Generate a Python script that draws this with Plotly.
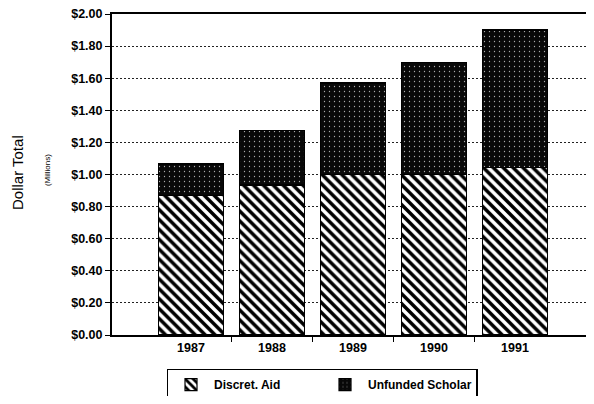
import plotly.graph_objects as go

years = ["1987", "1988", "1989", "1990", "1991"]
discret_aid = [0.87, 0.935, 1.00, 1.00, 1.045]
unfunded_scholar = [0.195, 0.34, 0.57, 0.70, 0.855]
tick_vals = [0.0, 0.2, 0.4, 0.6, 0.8, 1.0, 1.2, 1.4, 1.6, 1.8, 2.0]
tick_text = ["$0.00", "$0.20", "$0.40", "$0.60", "$0.80", "$1.00",
             "$1.20", "$1.40", "$1.60", "$1.80", "$2.00"]

FONT = "Liberation Sans, Arial, Helvetica, sans-serif"
xpos = list(range(len(years)))
boundaries = [i + 0.5 for i in xpos[:-1]]

fig = go.Figure()
fig.add_trace(go.Bar(
    x=xpos, y=discret_aid, name="Discret. Aid",
    width=0.8,
    marker=dict(color="white", line=dict(color="black", width=1.2),
                pattern=dict(shape="\\", fgcolor="black", bgcolor="white",
                             size=7, solidity=0.5, fillmode="replace")),
))
fig.add_trace(go.Bar(
    x=xpos, y=unfunded_scholar, name="Unfunded Scholar",
    width=0.8,
    marker=dict(color="#111111", line=dict(color="black", width=1.2),
                pattern=dict(shape=".", fgcolor="#aaaaaa", bgcolor="#080808",
                             size=5, solidity=0.05, fillmode="replace")),
))

fig.update_layout(
    barmode="stack",
    width=578, height=388,
    margin=dict(l=104, r=0, t=6, b=61, autoexpand=False),
    paper_bgcolor="white", plot_bgcolor="white",
    font=dict(family=FONT, color="black"),
    showlegend=True,
    legend=dict(
        orientation="h", x=0.115, y=-0.105, xanchor="left", yanchor="top",
        bordercolor="black", borderwidth=1.5, bgcolor="white",
        font=dict(size=12, family=FONT, color="black", weight="bold"),
        entrywidth=103, entrywidthmode="pixels",
        itemwidth=36,
        traceorder="normal",
    ),
)

fig.update_xaxes(
    range=[-0.975, 4.877],
    tickvals=xpos, ticktext=years,
    showline=True, linecolor="black", linewidth=2, mirror=True,
    ticks="",
    minor=dict(tickvals=boundaries, ticks="outside", ticklen=5,
               tickcolor="black", tickwidth=1, showgrid=False),
    tickfont=dict(size=12.5, family=FONT, color="black", weight="bold"),
    showgrid=False, zeroline=False,
)
fig.update_yaxes(
    range=[0, 2.0],
    tickvals=tick_vals, ticktext=tick_text,
    showline=True, linecolor="black", linewidth=2,
    ticks="outside", ticklen=5, tickcolor="black",
    ticklabeloverflow="allow",
    tickfont=dict(size=12.5, family=FONT, color="black", weight="bold"),
    showgrid=True, gridcolor="#222222", gridwidth=1, griddash="2px,2px",
    zeroline=False,
)

fig.add_annotation(
    text="Dollar Total", textangle=-90, showarrow=False,
    xref="paper", yref="paper", x=-0.198, y=0.505, xanchor="center", yanchor="middle",
    font=dict(size=15, family=FONT, color="black"),
)
fig.add_annotation(
    text="(Millions)", textangle=-90, showarrow=False,
    xref="paper", yref="paper", x=-0.137, y=0.514, xanchor="center", yanchor="middle",
    font=dict(size=8, family=FONT, color="black"),
)

fig.write_html("out.html")
